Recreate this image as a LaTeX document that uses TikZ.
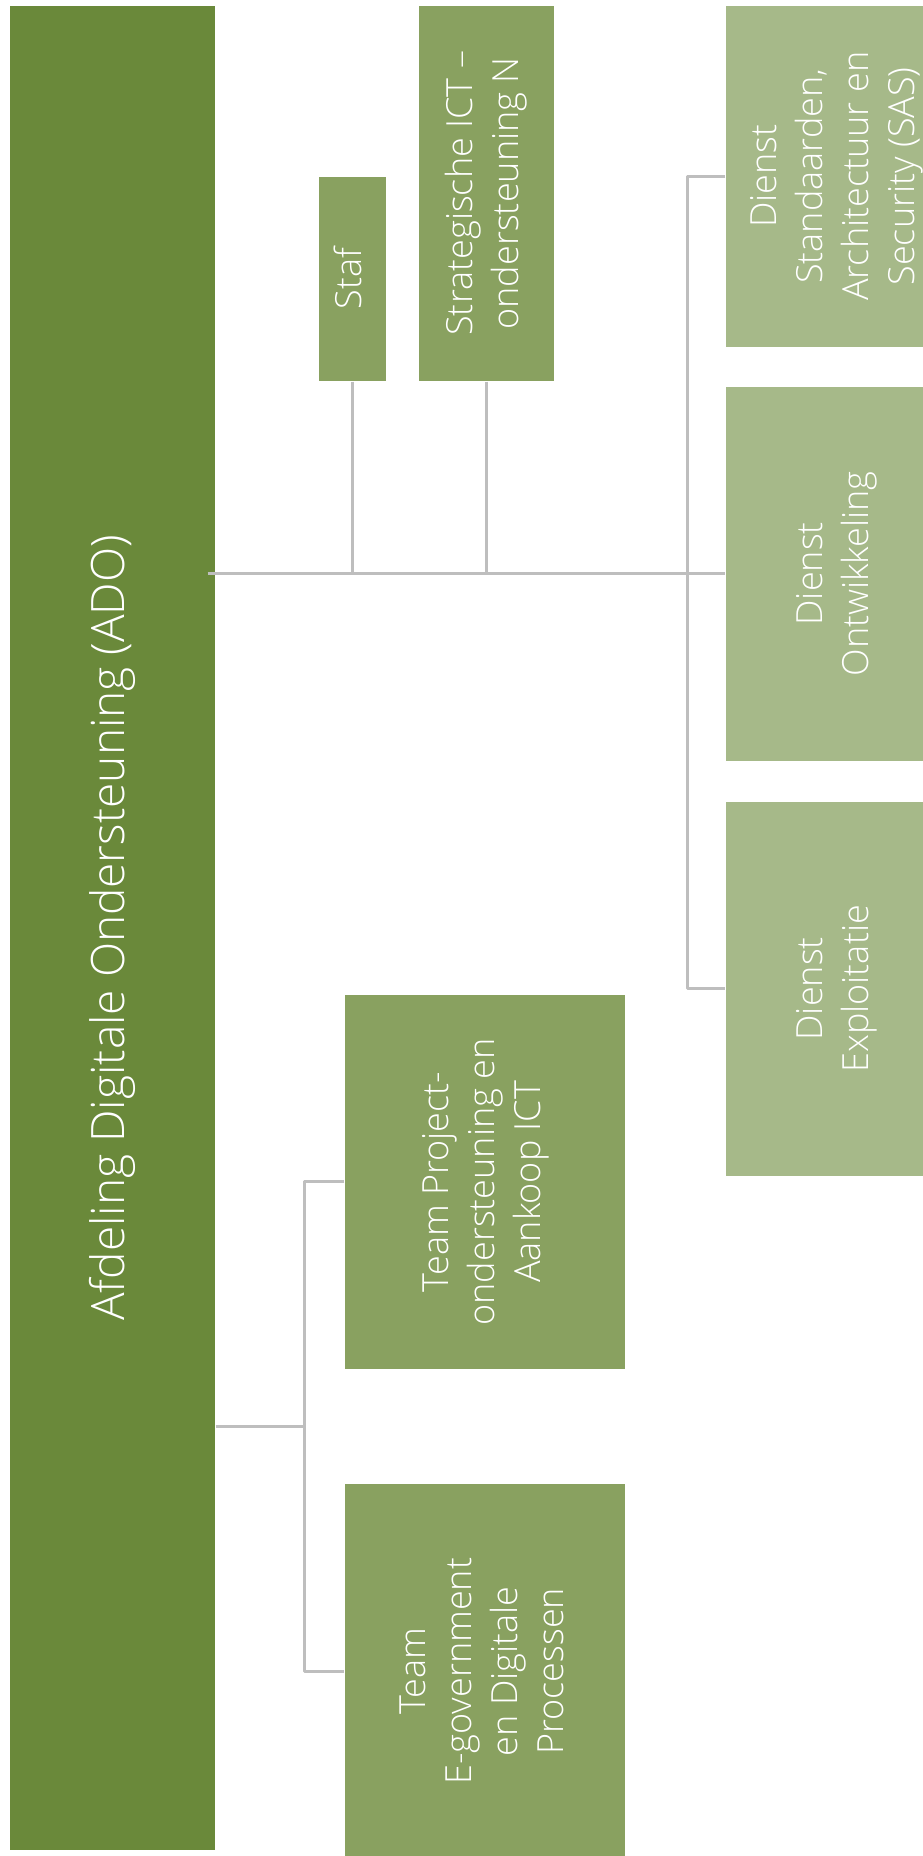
\documentclass[tikz,border=0pt]{standalone}
\usepackage{fontspec}
\setmainfont{Open Sans Light}
\usepackage{graphicx}
\definecolor{adogreen}{HTML}{6A893A}
\definecolor{teamgreen}{HTML}{89A160}
\definecolor{dienstgreen}{HTML}{A6B989}
\definecolor{linegray}{HTML}{BEBEBE}
\newcommand{\vlabel}[1]{\rotatebox{90}{\begin{tabular}{@{}c@{}}#1\end{tabular}}}
\tikzset{
	unitbox/.style={draw=white, line width=0.6pt, inner sep=0pt, anchor=north west, text=white, font=\fontsize{36}{46}\selectfont},
	adobox/.style={unitbox, fill=adogreen, font=\fontsize{46}{60}\selectfont},
	teambox/.style={unitbox, fill=teamgreen},
	dienstbox/.style={unitbox, fill=dienstgreen},
	conn/.style={draw=linegray, line width=3pt}
}
\begin{document}
\begin{tikzpicture}[x=1pt, y=-1pt, line join=round]
\useasboundingbox (0,0) rectangle (923,1856);
% afdeling
\node[adobox, minimum width=206, minimum height=1845] (ado) at (9,5) {\vlabel{Afdeling Digitale Ondersteuning (ADO)}};
% staf en strategische ondersteuning
\node[teambox, minimum width=68, minimum height=205] (staf) at (318,176) {\vlabel{Staf}};
\node[teambox, minimum width=136, minimum height=376] (strat) at (418,5) {\vlabel{Strategische ICT --\\ ondersteuning N}};
% diensten
\node[dienstbox, minimum width=222, minimum height=342] (sas) at (725,5) {\vlabel{Dienst\\ Standaarden,\\ Architectuur en\\ Security (SAS)}};
\node[dienstbox, minimum width=222, minimum height=375] (ontw) at (725,386) {\vlabel{Dienst\\ Ontwikkeling}};
\node[dienstbox, minimum width=222, minimum height=375] (expl) at (725,801) {\vlabel{Dienst\\ Exploitatie}};
% teams
\node[teambox, minimum width=281, minimum height=375] (proj) at (344,994) {\vlabel{Team Project-\\ ondersteuning en\\ Aankoop ICT}};
\node[teambox, minimum width=281, minimum height=376] (egov) at (344,1483) {\vlabel{Team\\ E-government\\ en Digitale\\ Processen}};
% verbindingen boven
\draw[conn] ([xshift=-8pt]ado.east |- ontw.west) -- (ontw.west);
\draw[conn] (staf.south) -- (staf.south |- ontw.west);
\draw[conn] (strat.south) -- (strat.south |- ontw.west);
\draw[conn] (sas.west) -- ++(-38,0) |- (expl.west);
% verbindingen onder
\coordinate (teamjoin) at (304,1426);
\draw[conn] (ado.east |- teamjoin) -- (teamjoin);
\draw[conn] (proj.west) -- ++(-40,0) |- (egov.west);
\end{tikzpicture}
\end{document}
